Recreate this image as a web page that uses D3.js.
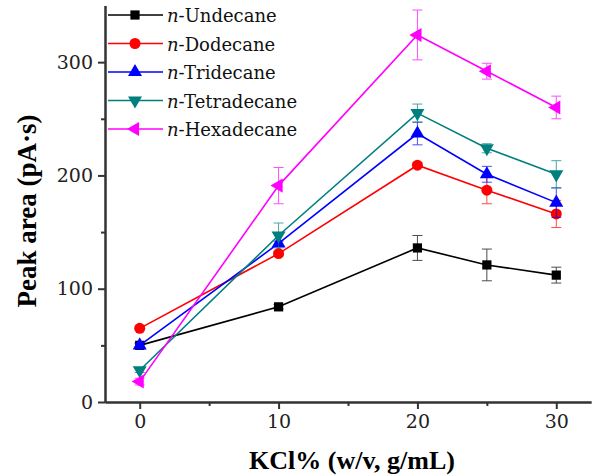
<!DOCTYPE html>
<html>
<head>
<meta charset="utf-8">
<script src="https://cdn.jsdelivr.net/npm/d3@7"></script>
<style>
  body { margin: 0; background: #fff; }
</style>
</head>
<body>
<svg id="chart" width="598" height="476"></svg>
<script>
var FONT = "Liberation Serif";
var FONT_REG = "DejaVu Serif";

// KCl concentration (% w/v)
var kcl = [0, 10, 20, 25, 30];

var names = ["Undecane", "Dodecane", "Tridecane", "Tetradecane", "Hexadecane"];

// peak areas (pA·s) and error bars
var undecane    = [50, 84, 136, 121, 112];
var undecaneErr = [2, 2, 11, 14, 7];
var dodecane    = [65, 131, 209, 187, 166];
var dodecaneErr = [2, 2, 2, 12, 12];
var tridecane    = [50, 140, 237, 201, 176];
var tridecaneErr = [2, 2, 10, 7, 13];
var tetradecane    = [28, 147, 255, 224, 201];
var tetradecaneErr = [2, 11, 8, 4, 12];
var hexadecane    = [18, 191, 324, 292, 260];
var hexadecaneErr = [3, 16, 22, 7, 10];

var yTicks = [0, 100, 200, 300];
var xTicks = [0, 10, 20, 30];

var series = [
  { name: names[0], vals: undecane, err: undecaneErr, color: "#000000", sym: d3.symbolSquare, rot: 0 },
  { name: names[1], vals: dodecane, err: dodecaneErr, color: "#ff0000", sym: d3.symbolCircle, rot: 0 },
  { name: names[2], vals: tridecane, err: tridecaneErr, color: "#0000ff", sym: d3.symbolTriangle, rot: 0 },
  { name: names[3], vals: tetradecane, err: tetradecaneErr, color: "#007f7f", sym: d3.symbolTriangle, rot: 180 },
  { name: names[4], vals: hexadecane, err: hexadecaneErr, color: "#ff00ff", sym: d3.symbolTriangle, rot: -90 }
];

var svg = d3.select("#chart");
var x = d3.scaleLinear().domain([-2.5, 32.5]).range([105, 591]);
var y = d3.scaleLinear().domain([0, 350]).range([402, 5.5]);

// axes
var xAxis = d3.axisBottom(x).tickValues(xTicks).tickSize(7).tickSizeOuter(0).tickPadding(6);
var xMinor = d3.axisBottom(x).tickValues([5, 15, 25]).tickSize(4).tickSizeOuter(0).tickFormat("");
var yAxis = d3.axisLeft(y).tickValues(yTicks).tickSize(7).tickSizeOuter(0).tickPadding(5);
var yMinor = d3.axisLeft(y).tickValues([50, 150, 250]).tickSize(4).tickSizeOuter(0).tickFormat("");

function styleAxis(g) {
  g.attr("font-family", null).attr("font-size", null);
  g.selectAll("path, line").attr("stroke", "#333").attr("stroke-width", 2);
  g.selectAll("text").attr("fill", "#222")
    .style("font-family", FONT_REG).style("font-size", "19px");
}

svg.append("g").attr("transform", "translate(0,402)").call(xMinor).call(styleAxis);
svg.append("g").attr("transform", "translate(0,402)").call(xAxis).call(styleAxis);
svg.append("g").attr("transform", "translate(105,0)").call(yMinor).call(styleAxis);
svg.append("g").attr("transform", "translate(105,0)").call(yAxis).call(styleAxis);

// axis titles
svg.append("text")
  .attr("x", 352).attr("y", 469)
  .attr("text-anchor", "middle")
  .style("font-family", FONT)
  .attr("font-size", 26).attr("font-weight", "bold")
  .text("KCl% (w/v, g/mL)");

svg.append("text")
  .attr("transform", "translate(36,211) rotate(-90)")
  .attr("text-anchor", "middle")
  .style("font-family", FONT)
  .attr("font-size", 27).attr("font-weight", "bold")
  .text("Peak area (pA·s)");

var line = d3.line()
  .x(function(d, i) { return x(kcl[i]); })
  .y(function(d) { return y(d); });

var plot = svg.append("g");

series.forEach(function(s) {
  var g = plot.append("g");
  g.append("path")
    .datum(s.vals)
    .attr("d", line)
    .attr("fill", "none")
    .attr("stroke", s.color)
    .attr("stroke-width", 1.6);

  // error bars
  s.vals.forEach(function(v, i) {
    var cx = x(kcl[i]);
    var eg = g.append("g").attr("stroke", s.color).attr("stroke-width", 1).attr("opacity", 0.7);
    eg.append("line").attr("x1", cx).attr("x2", cx).attr("y1", y(v - s.err[i])).attr("y2", y(v + s.err[i]));
    [v - s.err[i], v + s.err[i]].forEach(function(e) {
      eg.append("line").attr("x1", cx - 5).attr("x2", cx + 5).attr("y1", y(e)).attr("y2", y(e));
    });
  });

  g.selectAll(".m")
    .data(s.vals)
    .enter().append("path")
    .attr("d", d3.symbol().type(s.sym).size(s.sym === d3.symbolCircle ? 95 : 85))
    .attr("transform", function(d, i) {
      return "translate(" + x(kcl[i]) + "," + y(d) + ") rotate(" + s.rot + ")";
    })
    .attr("fill", s.color);
});

// legend
var leg = svg.append("g");
series.forEach(function(s, i) {
  var ly = 15 + i * 28.5;
  leg.append("line")
    .attr("x1", 108).attr("x2", 163).attr("y1", ly).attr("y2", ly)
    .attr("stroke", s.color).attr("stroke-width", 1.6);
  leg.append("path")
    .attr("d", d3.symbol().type(s.sym).size(s.sym === d3.symbolCircle ? 95 : 85))
    .attr("transform", "translate(135," + ly + ") rotate(" + s.rot + ")")
    .attr("fill", s.color);
  var t = leg.append("text")
    .attr("x", 167).attr("y", ly + 7)
    .style("font-family", FONT_REG)
    .attr("font-size", 18).attr("fill", "#111");
  t.append("tspan").attr("font-style", "italic").text("n");
  t.append("tspan").text("-" + s.name);
});
</script>
</body>
</html>
